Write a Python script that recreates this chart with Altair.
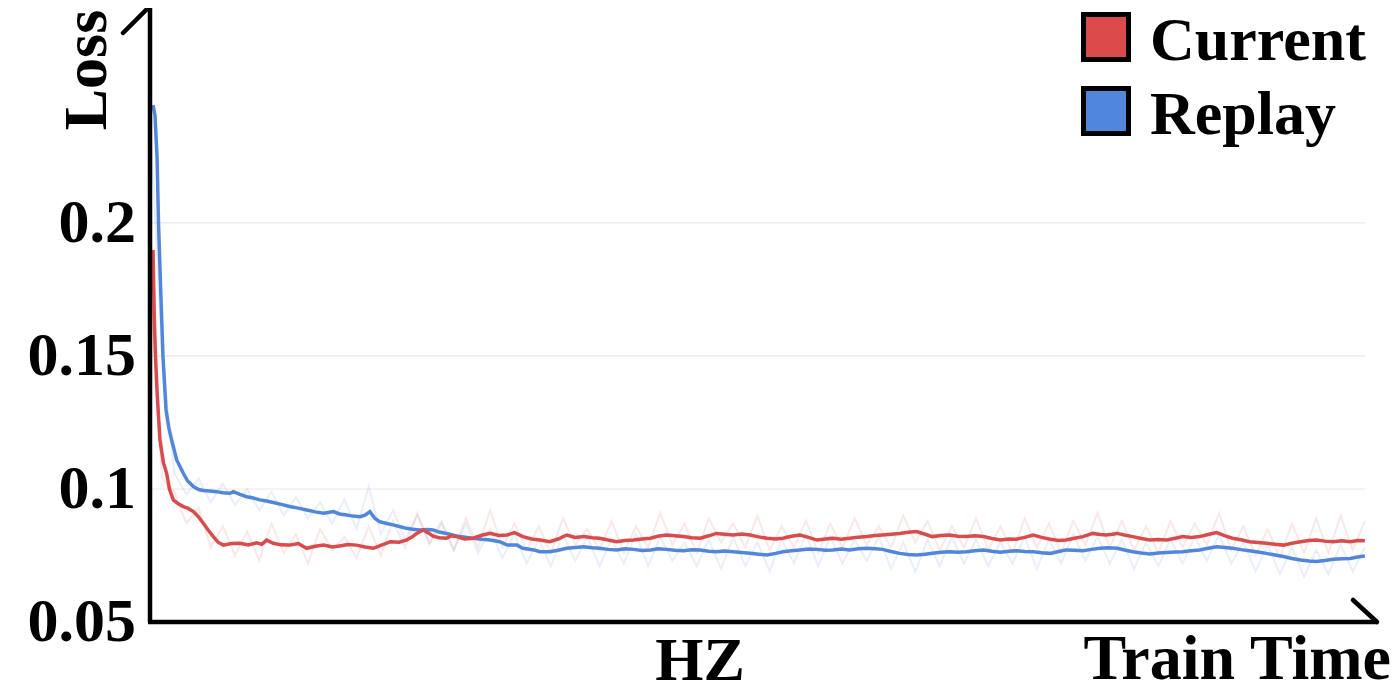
import altair as alt
import pandas as pd

# ---- data (train time step, loss) ----
series_names = ["Current", "Replay"]
series_colors = ["#DB4B4B", "#5087DD"]

current_curve = [
    (2.5, 0.1898), (3.5, 0.165), (4.5, 0.150), (6, 0.135), (8.2, 0.1184), (11, 0.1100),
    (13.7, 0.1059), (16, 0.1000), (19.2, 0.0959), (23, 0.0945), (27.4, 0.0934), (31, 0.0928),
    (35.7, 0.0915), (40, 0.0895), (43.9, 0.0871), (48, 0.0845), (52.1, 0.0821), (56, 0.0800),
    (60.4, 0.0789), (67, 0.0795), (74, 0.0796), (81, 0.0790), (88, 0.0798), (92, 0.0792),
    (96, 0.0808), (101.5, 0.0796), (108, 0.0790), (115, 0.0789), (122, 0.0795), (129, 0.0777),
    (136, 0.0785), (143, 0.0789), (150, 0.0782), (156, 0.0786), (163, 0.0791), (170, 0.0789),
    (177, 0.0782), (184, 0.0777), (191, 0.0790), (198, 0.0802), (205, 0.0800), (211, 0.0808),
    (216, 0.0820), (219.5, 0.0833), (225, 0.0846), (229, 0.0835), (233, 0.0823), (238, 0.0817),
    (244, 0.0815), (248, 0.0824), (252, 0.0821), (259, 0.0812), (266, 0.0815), (273, 0.0826),
    (280, 0.0833), (287, 0.0825), (294, 0.0827), (300, 0.0836), (307, 0.0821), (314, 0.0812),
    (321, 0.0808), (329, 0.0802), (336, 0.0812), (343, 0.0827), (350, 0.0818), (357, 0.0821),
    (364, 0.0817), (370, 0.0815), (377, 0.0808), (384, 0.0802), (391, 0.0806), (398, 0.0808),
    (405, 0.0812), (412, 0.0815), (418, 0.0822), (425, 0.0827), (432, 0.0824), (439, 0.0821),
    (446, 0.0817), (453, 0.0815), (460, 0.0824), (466, 0.0833), (473, 0.0830), (480, 0.0827),
    (487, 0.0831), (494, 0.0827), (501, 0.0820), (508, 0.0815), (515, 0.0812), (521, 0.0815),
    (528, 0.0822), (535, 0.0827), (542, 0.0818), (549, 0.0808), (556, 0.0812), (562, 0.0815),
    (569, 0.0811), (576, 0.0815), (583, 0.0819), (590, 0.0821), (597, 0.0825), (603, 0.0827),
    (610, 0.0830), (617, 0.0833), (624, 0.0837), (631, 0.0840), (638, 0.0830), (644, 0.0821),
    (651, 0.0825), (658, 0.0827), (665, 0.0822), (672, 0.0821), (679, 0.0824), (686, 0.0821),
    (693, 0.0814), (700, 0.0808), (707, 0.0812), (713, 0.0811), (720, 0.0818), (727, 0.0827),
    (734, 0.0818), (741, 0.0811), (748, 0.0806), (754, 0.0808), (761, 0.0815), (768, 0.0821),
    (776, 0.0833), (782, 0.0829), (787, 0.0827), (792, 0.0830), (796, 0.0833), (803, 0.0826),
    (809, 0.0821), (816, 0.0814), (823, 0.0808), (830, 0.0810), (837, 0.0808), (844, 0.0815),
    (850, 0.0821), (857, 0.0818), (864, 0.0821), (871, 0.0829), (878, 0.0836), (885, 0.0824),
    (891, 0.0815), (898, 0.0809), (905, 0.0802), (912, 0.0799), (919, 0.0796), (926, 0.0792),
    (933, 0.0789), (940, 0.0796), (947, 0.0802), (954, 0.0806), (960, 0.0808), (967, 0.0804),
    (974, 0.0802), (981, 0.0805), (988, 0.0802), (994, 0.0806), (1000, 0.0805),
]

replay_curve = [
    (2.5, 0.2443), (4.1, 0.2406), (5.8, 0.2248), (7.0, 0.2000), (8.8, 0.1748), (10.7, 0.1496),
    (13.2, 0.1297), (15.5, 0.1230), (17.8, 0.1184), (22, 0.1109), (27.4, 0.1059), (31, 0.1030),
    (35.7, 0.1009), (40, 0.0998), (43.9, 0.0994), (49, 0.0992), (54.9, 0.0990), (60, 0.0986),
    (65.8, 0.0984), (68.6, 0.0990), (74, 0.0980), (79.6, 0.0971), (85, 0.0966), (90.5, 0.0959),
    (96, 0.0955), (101.5, 0.0949), (108, 0.0942), (115, 0.0934), (122, 0.0928), (129, 0.0921),
    (136, 0.0914), (143, 0.0909), (151, 0.0915), (156, 0.0906), (162, 0.0902), (167, 0.0898),
    (173, 0.0896), (177, 0.0902), (181, 0.0915), (185, 0.0890), (189, 0.0877), (195, 0.0870),
    (200, 0.0865), (206, 0.0858), (211, 0.0852), (216, 0.0849), (222, 0.0846), (228, 0.0848),
    (233, 0.0846), (238, 0.0838), (244, 0.0833), (250, 0.0826), (255, 0.0821), (261, 0.0818),
    (266, 0.0815), (273, 0.0811), (280, 0.0808), (288, 0.0802), (294, 0.0789), (302, 0.0789),
    (307, 0.0777), (316, 0.0771), (321, 0.0764), (329, 0.0764), (336, 0.0770), (343, 0.0777),
    (350, 0.0780), (357, 0.0783), (364, 0.0779), (370, 0.0777), (377, 0.0773), (384, 0.0771),
    (391, 0.0775), (398, 0.0773), (405, 0.0769), (412, 0.0771), (418, 0.0775), (425, 0.0773),
    (432, 0.0770), (439, 0.0768), (446, 0.0772), (453, 0.0771), (460, 0.0766), (466, 0.0764),
    (473, 0.0767), (480, 0.0764), (487, 0.0761), (494, 0.0758), (501, 0.0755), (508, 0.0752),
    (515, 0.0758), (521, 0.0764), (528, 0.0768), (535, 0.0771), (542, 0.0774), (549, 0.0773),
    (556, 0.0770), (562, 0.0771), (569, 0.0774), (576, 0.0771), (583, 0.0775), (590, 0.0777),
    (597, 0.0775), (603, 0.0773), (610, 0.0765), (617, 0.0758), (624, 0.0754), (631, 0.0752),
    (638, 0.0755), (644, 0.0758), (651, 0.0762), (658, 0.0764), (665, 0.0762), (672, 0.0764),
    (679, 0.0768), (686, 0.0771), (693, 0.0766), (700, 0.0762), (707, 0.0766), (713, 0.0768),
    (720, 0.0765), (727, 0.0764), (734, 0.0760), (741, 0.0758), (748, 0.0765), (754, 0.0771),
    (761, 0.0770), (768, 0.0768), (775, 0.0773), (782, 0.0777), (789, 0.0779), (796, 0.0777),
    (803, 0.0770), (809, 0.0764), (816, 0.0759), (823, 0.0756), (830, 0.0759), (837, 0.0761),
    (844, 0.0763), (850, 0.0764), (857, 0.0768), (864, 0.0771), (871, 0.0777), (878, 0.0783),
    (885, 0.0780), (891, 0.0777), (898, 0.0772), (905, 0.0768), (912, 0.0763), (919, 0.0758),
    (926, 0.0752), (933, 0.0746), (940, 0.0739), (947, 0.0733), (954, 0.0729), (960, 0.0727),
    (967, 0.0731), (974, 0.0736), (981, 0.0738), (988, 0.0739), (994, 0.0744), (1000, 0.0748),
]

# raw (unsmoothed) loss, one value every 10 steps from 0 to 1000
raw_steps = list(range(0, 1001, 10))
current_raw = [
    0.178, 0.104, 0.099, 0.087, 0.093, 0.078, 0.086, 0.075, 0.084, 0.073,
    0.087, 0.076, 0.083, 0.072, 0.085, 0.077, 0.082, 0.074, 0.086, 0.075,
    0.088, 0.078, 0.091, 0.079, 0.087, 0.077, 0.089, 0.078, 0.092, 0.078,
    0.087, 0.077, 0.086, 0.076, 0.089, 0.079, 0.085, 0.077, 0.088, 0.076,
    0.086, 0.078, 0.091, 0.079, 0.087, 0.076, 0.089, 0.080, 0.087, 0.078,
    0.090, 0.077, 0.086, 0.078, 0.088, 0.076, 0.087, 0.078, 0.089, 0.079,
    0.086, 0.078, 0.090, 0.080, 0.088, 0.077, 0.086, 0.078, 0.089, 0.077,
    0.086, 0.076, 0.089, 0.078, 0.087, 0.076, 0.088, 0.079, 0.091, 0.078,
    0.088, 0.077, 0.086, 0.076, 0.088, 0.078, 0.087, 0.079, 0.091, 0.077,
    0.086, 0.075, 0.085, 0.074, 0.087, 0.076, 0.089, 0.076, 0.090, 0.077,
    0.088,
]
replay_raw = [
    0.240, 0.150, 0.106, 0.098, 0.104, 0.095, 0.102, 0.094, 0.100, 0.092,
    0.099, 0.090, 0.097, 0.089, 0.095, 0.087, 0.096, 0.085, 0.101, 0.083,
    0.092, 0.081, 0.090, 0.080, 0.088, 0.077, 0.087, 0.076, 0.085, 0.074,
    0.083, 0.072, 0.081, 0.071, 0.083, 0.073, 0.082, 0.071, 0.081, 0.072,
    0.083, 0.071, 0.082, 0.073, 0.080, 0.071, 0.081, 0.070, 0.082, 0.071,
    0.080, 0.069, 0.081, 0.072, 0.083, 0.071, 0.082, 0.072, 0.081, 0.073,
    0.082, 0.070, 0.080, 0.069, 0.081, 0.071, 0.082, 0.072, 0.081, 0.071,
    0.080, 0.072, 0.082, 0.070, 0.081, 0.072, 0.083, 0.073, 0.082, 0.072,
    0.081, 0.070, 0.080, 0.071, 0.081, 0.072, 0.082, 0.073, 0.083, 0.072,
    0.080, 0.069, 0.079, 0.068, 0.078, 0.067, 0.077, 0.068, 0.079, 0.069,
    0.078,
]

y_ticks = [0.05, 0.1, 0.15, 0.2]
y_tick_labels = ["0.05", "0.1", "0.15", "0.2"]
grid_values = [0.1, 0.15, 0.2]
x_start, x_end, x_axis_end = 0, 1000, 1010
y_min, y_max = 0.05, 0.2808
y_title = "Loss"
x_title_mid = "HZ"
x_title_end = "Train Time"

# ---- tables ----
smooth_df = pd.concat([
    pd.DataFrame({"step": [p[0] for p in replay_curve], "loss": [p[1] for p in replay_curve], "series": "Replay", "ord": 0}),
    pd.DataFrame({"step": [p[0] for p in current_curve], "loss": [p[1] for p in current_curve], "series": "Current", "ord": 1}),
])
raw_df = pd.concat([
    pd.DataFrame({"step": raw_steps, "loss": replay_raw, "series": "Replay"}),
    pd.DataFrame({"step": raw_steps, "loss": current_raw, "series": "Current"}),
])
grid_df = pd.DataFrame({"y": grid_values, "x0": x_start, "x1": x_end})
tick_df = pd.DataFrame({"y": y_ticks, "label": y_tick_labels})
axis_df = pd.DataFrame({"x0": [x_start], "y0": [y_min]})
one = pd.DataFrame({"k": [0]})

FONT = "Liberation Serif"
W, H = 1227, 614
x_scale = alt.Scale(domain=[x_start, x_axis_end], nice=False, zero=False)
y_scale = alt.Scale(domain=[y_min, y_max], nice=False, zero=False)
color_scale = alt.Scale(domain=series_names, range=series_colors)

grid = alt.Chart(grid_df).mark_rule(color="#e9e9e9", strokeWidth=1.2).encode(
    y=alt.Y("y:Q", scale=y_scale, axis=None),
    x=alt.X("x0:Q", scale=x_scale, axis=None),
    x2="x1:Q",
)

tick_labels = alt.Chart(tick_df).mark_text(
    font=FONT, fontSize=62, fontWeight="bold", color="black", align="right", baseline="middle"
).encode(
    y=alt.Y("y:Q", scale=y_scale, axis=None),
    x=alt.value(-14),
    text="label:N",
)

raw = alt.Chart(raw_df).mark_line(strokeWidth=2, opacity=0.13).encode(
    x=alt.X("step:Q", scale=x_scale, axis=None),
    y=alt.Y("loss:Q", scale=y_scale, axis=None),
    color=alt.Color("series:N", scale=color_scale, legend=None),
)

smooth = alt.Chart(smooth_df).mark_line(strokeWidth=3.5).encode(
    x=alt.X("step:Q", scale=x_scale, axis=None),
    y=alt.Y("loss:Q", scale=y_scale, axis=None),
    color=alt.Color("series:N", scale=color_scale, legend=None),
    order="ord:Q",
)

# axis lines with arrow strokes
y_axis_line = alt.Chart(axis_df).mark_rule(color="black", strokeWidth=4.5).encode(
    x=alt.X("x0:Q", scale=x_scale, axis=None),
    y=alt.Y("y0:Q", scale=y_scale, axis=None),
    y2=alt.value(-2),
)
x_axis_line = alt.Chart(axis_df).mark_rule(color="black", strokeWidth=4.5).encode(
    y=alt.Y("y0:Q", scale=y_scale, axis=None),
    x=alt.value(-2),
    x2=alt.value(W),
)
y_arrow = alt.Chart(one).mark_rule(color="black", strokeWidth=4.5, strokeCap="round").encode(
    x=alt.value(0), y=alt.value(-2), x2=alt.value(-27), y2=alt.value(25)
)
x_arrow = alt.Chart(one).mark_rule(color="black", strokeWidth=4.5, strokeCap="round").encode(
    x=alt.value(W), y=alt.value(H), x2=alt.value(W - 24), y2=alt.value(H - 22)
)

def label(text, x, y, size, align="center", angle=0):
    return alt.Chart(one).mark_text(
        text=text, font=FONT, fontSize=size, fontWeight="bold", color="black",
        align=align, baseline="alphabetic", angle=angle,
    ).encode(x=alt.value(x), y=alt.value(y))

loss_lbl = label(y_title, -44, 62, 62, angle=270)
hz_lbl = label(x_title_mid, 550, 672, 62)
tt_lbl = label(x_title_end, 1241, 671, 64, align="right")

legend_layers = []
for i, (name, col) in enumerate(zip(series_names, series_colors)):
    cy = 29 + i * 74
    legend_layers.append(
        alt.Chart(one).mark_square(size=2025, fill=col, stroke="black", strokeWidth=5, opacity=1)
        .encode(x=alt.value(956), y=alt.value(cy))
    )
    legend_layers.append(label(name, 1000, cy + 23, 62, align="left"))

chart = alt.layer(
    grid, tick_labels, raw, smooth, y_axis_line, x_axis_line, y_arrow, x_arrow,
    loss_lbl, hz_lbl, tt_lbl, *legend_layers,
).properties(
    width=W, height=H,
    autosize=alt.AutoSizeParams(type="none"),
    padding={"left": 142, "top": 0, "right": 15, "bottom": 70},
).configure_view(stroke=None)

chart.save("out.html", embed_options={"renderer": "svg", "actions": False})
